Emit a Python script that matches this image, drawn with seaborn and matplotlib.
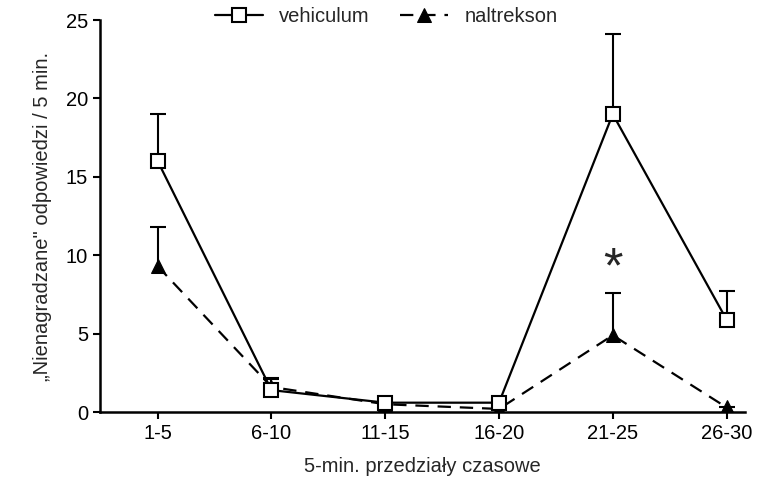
import pandas as pd
import numpy as np
import matplotlib.pyplot as plt
import seaborn as sns

# data
intervals = ["1-5", "6-10", "11-15", "16-20", "21-25", "26-30"]
vehiculum = [16.0, 1.4, 0.6, 0.6, 19.0, 5.9]
vehiculum_err = [3.0, 0.8, 0.1, 0.1, 5.1, 1.8]
naltrekson = [9.3, 1.6, 0.5, 0.2, 4.9, 0.3]
naltrekson_err = [2.5, 0.5, 0.1, 0.0, 2.7, 0.0]

df = pd.DataFrame({"x": np.arange(len(intervals)),
                   "vehiculum": vehiculum, "naltrekson": naltrekson})

sns.set_style("ticks")
plt.rcParams['font.family'] = ['Liberation Sans', 'DejaVu Sans']

fig = plt.figure(figsize=(7.79, 4.9), dpi=100)
ax = fig.add_axes([0.128, 0.159, 0.828, 0.80])

# error bars (upper only, no lower cap)
for vals, errs in [(vehiculum, vehiculum_err), (naltrekson, naltrekson_err)]:
    eb = ax.errorbar(df["x"], vals, yerr=[np.zeros(6), errs], fmt="none",
                     ecolor="black", elinewidth=1.5, capsize=6, capthick=1.5, zorder=1)
    eb[1][0].set_visible(False)

sns.lineplot(data=df, x="x", y="vehiculum", ax=ax, color="black", linewidth=1.6,
             marker="s", markersize=10, markerfacecolor="white", markeredgecolor="black",
             markeredgewidth=1.5, label="vehiculum", zorder=3)
sns.lineplot(data=df, x="x", y="naltrekson", ax=ax, color="black", linewidth=1.6,
             linestyle=(0, (6, 4)), marker="^", markersize=10, markerfacecolor="black",
             markeredgecolor="black", label="naltrekson", zorder=2)

ax.text(4, 9.1, "*", fontsize=36, ha="center", va="center")

ax.set_xlim(-0.51, 5.16)
ax.set_ylim(0, 25)
ax.set_yticks([0, 5, 10, 15, 20, 25])
ax.set_xticks(df["x"])
ax.set_xticklabels(intervals)
ax.tick_params(labelsize=14.5, width=1.5, length=5, colors="black")
for s in ["left", "bottom"]:
    ax.spines[s].set_linewidth(1.8)
    ax.spines[s].set_color("black")
sns.despine(ax=ax)

ax.set_xlabel("5-min. przedziały czasowe", fontsize=14.5, labelpad=10)
ax.set_ylabel("\u201eNienagradzane\" odpowiedzi / 5 min.", fontsize=14.5, labelpad=10)

ax.legend(loc="lower left", bbox_to_anchor=(0.166, 0.965), ncol=2, frameon=False,
          fontsize=14.5, handlelength=2.4, columnspacing=1.5, borderaxespad=0,
          handletextpad=0.8)

plt.savefig("out.png", dpi=100)
